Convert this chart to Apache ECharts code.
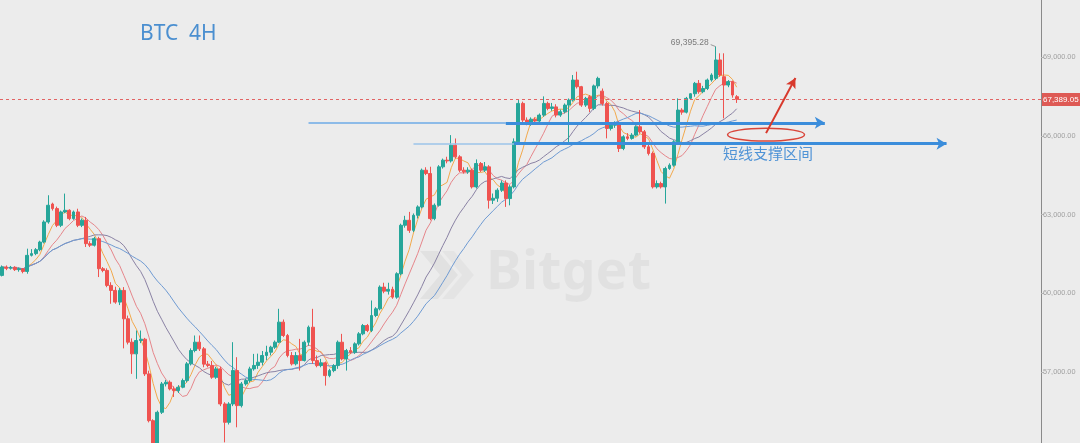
<!DOCTYPE html>
<html>
<head>
<meta charset="utf-8">
<script src="https://cdn.jsdelivr.net/npm/echarts@6.0.0/dist/echarts.min.js"></script>
<style>
  html, body { margin: 0; padding: 0; background: #ececec; }
  #chart { width: 1080px; height: 443px; }
</style>
</head>
<body>
<div id="chart"></div>
<script>
// BTC/USDT 4H candles (open, close, low, high), oldest first
const opens = [
  60680,61000,60950,60990,60900,60930,60830,61444,61510,61660,
  61950,62716,63400,63224,62588,63097,63160,62843,63097,62588,
  62780,61889,61830,62080,60935,60870,60299,60108,59663,60108,
  59027,58136,57691,58200,58250,56928,55147,54256,55465,56546,
  56610,56356,56292,56420,56674,57310,57818,58136,57882,57300,
  57250,56801,57119,55783,55083,55783,57055,55720,56546,56674,
  57119,57250,57373,57628,57755,57946,58136,58900,58391,57628,
  57310,57626,57436,58135,58707,57435,57245,57350,56863,57054,
  57245,58135,57499,57817,57753,58072,58453,58771,58580,59152,
  59407,60234,60080,60150,59852,60743,62589,62780,62398,62970,
  63289,64688,64560,62844,63352,64815,65070,65040,65642,65197,
  64688,64625,64690,64052,64942,64688,64815,63543,63620,63925,
  64200,63607,64052,65770,67232,66596,66470,66630,66560,66787,
  67232,67041,67100,66787,66914,67168,67359,68122,67868,67168,
  67487,67042,67900,67700,67230,66279,66400,66470,65515,65960,
  65900,66024,66342,66151,65579,65324,64052,64179,64052,64752,
  64880,65769,66978,66900,67424,67600,67996,67678,67800,68123,
  68187,68887,68250,67932,68060,67487
];
const closes = [
  61000,60950,60990,60900,60930,60830,61444,61510,61660,61950,
  62716,63352,63224,62588,63097,63160,62843,63097,62588,62780,
  61889,61830,62080,60935,60870,60299,60108,59663,60108,59027,
  58136,57691,58200,58250,56928,55147,54256,55465,56546,56610,
  56356,56292,56420,56674,57310,57818,58136,57882,57300,57250,
  56801,57119,55783,55083,55783,57055,55720,56546,56674,57119,
  57250,57373,57628,57755,57946,58136,58900,58391,57628,57310,
  57626,57436,58135,58707,57435,57245,57350,56863,57054,57245,
  58135,57499,57817,57753,58072,58453,58771,58580,59152,59407,
  60234,60080,60150,59852,60743,62589,62780,62398,62970,63289,
  64688,64560,62844,63352,64815,65070,65040,65642,65197,64688,
  64625,64690,64052,64942,64688,64815,63543,63620,63925,64200,
  63607,64052,65770,67232,66596,66470,66630,66560,66787,67232,
  67041,67100,66787,66914,67168,67359,68122,67868,67168,67423,
  67042,67900,68186,67230,66279,66400,66470,65515,65960,65900,
  66024,66342,66151,65579,65324,64052,64179,64052,64752,64880,
  65769,66978,66900,67424,67600,67996,67678,67800,68123,68314,
  68887,68314,67932,68060,67551,67389.05
];
const lows = [
  60640,60880,60900,60850,60820,60760,60744,61400,61450,61600,
  61900,62650,63150,62520,62520,63050,62780,62800,62520,62520,
  61762,61760,61780,60617,60800,60230,59599,59600,59550,57900,
  58050,56928,56740,58100,56850,55080,54100,54150,55400,56450,
  56300,56050,56200,56380,56600,57250,57750,57800,57180,57180,
  56740,56740,55700,54320,55000,55700,54893,55650,56480,56600,
  57050,57120,57250,57450,57630,57880,58100,58330,57560,57250,
  57250,57054,57400,58000,57308,57180,57180,56481,56800,56990,
  57120,57440,57054,57690,57690,58010,58400,58520,58520,59090,
  59350,60000,59950,59790,59790,60680,62500,62300,62330,62850,
  63230,64500,62780,62780,63300,64750,64950,64980,65130,64620,
  64560,64550,63990,63990,64620,64620,63225,63400,63480,63860,
  63289,63350,63990,65700,66500,66400,66380,66450,66470,66720,
  66970,66950,66700,66720,66850,65750,67300,67800,67100,67100,
  66900,66977,67800,67150,65900,66200,66300,65380,65450,65830,
  65850,65980,66080,65500,65250,63990,63990,63990,63416,64700,
  64820,65700,66800,66850,67380,67487,67600,67620,67740,68060,
  68120,68250,66661,67850,67450,67250
];
const highs = [
  61060,61060,61040,61030,60980,60960,61698,61680,61720,62000,
  62780,63733,63450,63300,63150,63797,63200,63150,63220,62850,
  62906,61980,62150,62150,61000,60950,60420,60250,60200,60235,
  59150,58280,58580,58580,58300,57050,55200,55530,56620,56700,
  56680,56450,56500,56750,57380,57900,58391,58391,57950,57420,
  57420,57200,57200,55850,55850,58136,57564,56620,56750,57200,
  57690,57700,57800,58000,58000,58200,59408,59000,58450,57760,
  57760,58262,58200,58770,59407,57630,57500,57400,57120,57300,
  58200,58453,57880,57950,58130,58520,58830,58830,59725,59470,
  60300,60400,60400,60250,60800,62650,62950,63100,63040,63350,
  64750,64800,64820,63420,64880,65130,65200,66024,65896,65260,
  64800,64800,64750,65100,65000,65000,64880,63800,64000,64300,
  64300,64120,65900,67360,67300,66700,66700,66700,66850,67500,
  67300,67250,67200,67000,67230,67420,68313,68440,67900,67480,
  67550,67950,68250,67800,67300,66500,66550,66550,66020,66100,
  66100,66400,66977,66220,65650,65400,64300,64250,64820,64950,
  65830,67424,67050,67480,67620,68050,68123,67900,68180,68380,
  69395.28,69141,69141,68120,68100,67550
];

// moving averages shown on the chart
const maPeriods = [5, 10, 20, 30];
const maColors = ['#f2a94c', '#e6868b', '#8a82a4', '#6f9bd3'];

// y axis scale and tick step
const yMin = 54000, yMax = 72000, yStep = 3000;
const slotCount = 248;           // candle slots incl. empty space on the right

// annotation values (price levels)
const supportUpper = 66492;
const supportLower = 65699;
const zoneLabel = '短线支撑区间';
const titleText = 'BTC  4H';

const categories = Array.from({ length: slotCount }, (_, i) => 'c' + i);
const candleData = opens.map((o, i) => [o, closes[i], lows[i], highs[i]]);

function sma(n) {
  return closes.map((_, i) => {
    const s = Math.max(0, i - n + 1);
    let sum = 0;
    for (let k = s; k <= i; k++) sum += closes[k];
    return +(sum / (i - s + 1)).toFixed(2);
  });
}

const fmt = v => v.toLocaleString('en-US', { minimumFractionDigits: 2, maximumFractionDigits: 2 });

const lastIdx = closes.length - 1;
const lastClose = closes[lastIdx];
let hiIdx = 0;
highs.forEach((h, i) => { if (h > highs[hiIdx]) hiIdx = i; });

const chart = echarts.init(document.getElementById('chart'), null, { renderer: 'canvas' });

const blue = '#3b8ddb';
const arrowRed = '#d8392c';
const solid = (color, width) => ({ color, width, type: 'solid', opacity: 1 });

const option = {
  backgroundColor: '#ececec',
  animation: false,
  grid: { left: 0, right: 39, top: -21.75, bottom: -7.75, containLabel: false, outerBoundsMode: 'none' },
  xAxis: {
    type: 'category', data: categories, boundaryGap: true,
    axisLine: { show: false }, axisTick: { show: false }, axisLabel: { show: false }, splitLine: { show: false }
  },
  yAxis: {
    type: 'value', position: 'right', min: yMin, max: yMax, interval: yStep, scale: false,
    axisLine: { show: true, lineStyle: { color: '#8a8a8a', width: 1 } },
    axisTick: { show: true, length: 3, lineStyle: { color: '#b5b5b5' } },
    axisLabel: {
      color: '#a0a0a0', fontSize: 7.3, fontFamily: 'Liberation Sans', margin: 2,
      showMinLabel: false, showMaxLabel: false, formatter: v => fmt(v)
    },
    splitLine: { show: false }
  },
  series: [
    {
      type: 'candlestick', data: candleData, barWidth: 3.4,
      itemStyle: { color: '#26a69a', color0: '#ef5350', borderColor: '#26a69a', borderColor0: '#ef5350', borderWidth: 1 },
      markLine: {
        silent: true, animation: false,
        symbol: ['none', 'none'],
        lineStyle: { type: 'solid' },
        label: { show: false },
        emphasis: { disabled: true },
        data: [
          // upper support line
          [{ coord: [73, supportUpper], lineStyle: solid('#8dbbe8', 2) },
           { coord: [120, supportUpper] }],
          [{ coord: [120, supportUpper], lineStyle: solid(blue, 3) },
           { coord: [195.5, supportUpper], symbol: 'arrow', symbolSize: [9, 10] }],
          // lower support line
          [{ coord: [98, supportLower], lineStyle: solid('#9cc4ea', 1.5) },
           { coord: [122, supportLower] }],
          [{ coord: [122, supportLower], lineStyle: solid(blue, 3) },
           { coord: [224.8, supportLower], symbol: 'arrow', symbolSize: [9, 10] }],
          // breakout arrow
          [{ coord: [182.1, 66099], lineStyle: solid(arrowRed, 2) },
           { coord: [189.0, 68199], symbol: 'arrow', symbolSize: [8, 10] }]
        ]
      }
    },
    ...maPeriods.map((p, k) => ({
      type: 'line', data: sma(p), symbol: 'none', smooth: false,
      lineStyle: { color: maColors[k], width: 1 }, z: 1, silent: true
    }))
  ]
};
chart.setOption(option);

// overlays anchored to data coordinates
const hiPt = chart.convertToPixel({ gridIndex: 0 }, [hiIdx, highs[hiIdx]]);
const tagY = Math.round(chart.convertToPixel({ yAxisIndex: 0 }, lastClose)) + 0.5;
const zoneC = chart.convertToPixel({ gridIndex: 0 }, [181.8, 66042]);

chart.setOption({
  graphic: [
    // watermark
    {
      type: 'group', left: 420, top: 247, silent: true, z: 0,
      children: [
        { type: 'polygon', shape: { points: [[0, 0], [18, 0], [38, 24], [18, 48], [0, 48], [20, 24]] }, style: { fill: 'rgba(0,0,0,0.045)' } },
        { type: 'polygon', shape: { points: [[22, 0], [34, 0], [54, 24], [34, 48], [22, 48], [42, 24]] }, style: { fill: 'rgba(0,0,0,0.03)' } },
        { type: 'text', x: 66, y: -4, style: { text: 'Bitget', font: 'bold 54px "Noto Sans"', fill: 'rgba(0,0,0,0.045)' } }
      ]
    },
    // last price line
    { type: 'line', silent: true, z: 5, shape: { x1: 0, y1: tagY, x2: 1041, y2: tagY }, style: { stroke: '#e26464', lineWidth: 1, lineDash: [3, 3] } },
    // title
    { type: 'text', left: 140, top: 24, style: { text: titleText, font: '21px "Noto Sans"', fill: '#4b8fd0' } },
    // support zone label
    { type: 'text', left: 723, top: 146, style: { text: zoneLabel, font: '15px "Noto Sans CJK SC"', fill: '#4f93d6' } },
    // ellipse around the support zone
    { type: 'ellipse', shape: { cx: zoneC[0], cy: zoneC[1], rx: 38.5, ry: 6.4 }, style: { fill: 'none', stroke: '#d9453a', lineWidth: 1.5 } },
    // highest price marker
    { type: 'line', shape: { x1: hiPt[0] - 5, y1: hiPt[1] - 2, x2: hiPt[0], y2: hiPt[1] }, style: { stroke: '#999', lineWidth: 1 } },
    { type: 'text', x: hiPt[0] - 7, y: hiPt[1] - 4, style: { text: fmt(highs[hiIdx]), font: '8.5px "Liberation Sans"', fill: '#7a7a7a', textAlign: 'right', textVerticalAlign: 'middle' } },
    // last price tag on the axis
    { type: 'rect', shape: { x: 1041, y: tagY - 6.5, width: 39, height: 13 }, style: { fill: '#de5a55' } },
    { type: 'text', x: 1043, y: tagY, style: { text: fmt(lastClose), font: '8px "Liberation Sans"', fill: '#fff', textVerticalAlign: 'middle' } }
  ]
});
</script>
</body>
</html>
